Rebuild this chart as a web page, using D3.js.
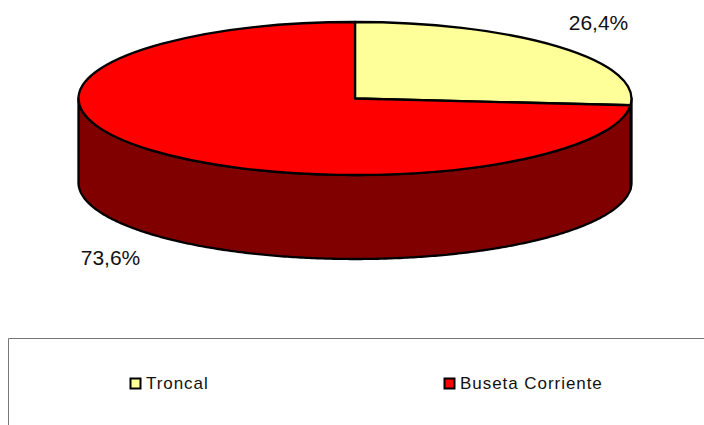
<!DOCTYPE html>
<html>
<head>
<meta charset="utf-8">
<script src="https://cdn.jsdelivr.net/npm/d3@7"></script>
<style>
  html, body { margin: 0; padding: 0; background: #fff; }
  svg { display: block; }
  text { font-family: "Liberation Sans", Arial, sans-serif; fill: #111; }
</style>
</head>
<body>
<div id="chart"></div>
<script>
const categories = ['Troncal', 'Buseta Corriente'];
const shares = [26.4, 73.6];
const shareLabels = ['26,4%', '73,6%'];
const topColors = ['#ffff99', '#ff0000'];
const sideColors = ['#808040', '#800000'];

const width = 704, height = 425;
const cx = 355, cy = 98.5, rx = 276.5, ry = 76.5, depth = 84;

const svg = d3.select('#chart').append('svg')
  .attr('width', width)
  .attr('height', height);

// Angles from the library, clockwise from 12 o'clock
const slices = d3.pie().sort(null)(shares);

const px = a => cx + rx * Math.sin(a);
const py = a => cy - ry * Math.cos(a);

// Side wall: only the front half of the ellipse is visible
const wall = d3.area()
  .x(a => px(a))
  .y0(a => py(a))
  .y1(a => py(a) + depth);

slices.forEach((s, i) => {
  const from = Math.max(s.startAngle, Math.PI / 2);
  const to = Math.min(s.endAngle, Math.PI * 1.5);
  if (to <= from) return;
  svg.append('path')
    .attr('d', wall(d3.range(from, to, 0.01).concat(to)))
    .attr('fill', sideColors[i])
    .attr('stroke', '#000')
    .attr('stroke-width', 2.3)
    .attr('stroke-linejoin', 'round');
});

// Top face: unit-radius arcs stretched into the ellipse
const arc = d3.arc().innerRadius(0).outerRadius(1);
svg.append('g')
  .attr('transform', `translate(${cx},${cy}) scale(${rx},${ry})`)
  .selectAll('path')
  .data(slices)
  .join('path')
  .attr('d', arc)
  .attr('fill', (d, i) => topColors[i])
  .attr('stroke', '#000')
  .attr('stroke-width', 2.3)
  .attr('stroke-linejoin', 'round')
  .attr('vector-effect', 'non-scaling-stroke');

// Data labels
svg.selectAll('.share')
  .data(shareLabels)
  .join('text')
  .attr('class', 'share')
  .attr('x', (d, i) => [598.5, 110.5][i])
  .attr('y', (d, i) => [30, 265][i])
  .attr('text-anchor', 'middle')
  .attr('font-size', 21)
  .text(d => d);

// Legend frame: clipped by the window on the right and bottom
svg.append('path')
  .attr('d', `M8.5,${height} V338.5 H${width}`)
  .attr('fill', 'none')
  .attr('stroke', '#777')
  .attr('stroke-width', 1);

const legendX = d3.scalePoint().domain(categories).range([130, 444]);
const legend = svg.selectAll('.legend-item')
  .data(categories)
  .join('g')
  .attr('class', 'legend-item')
  .attr('transform', d => `translate(${legendX(d)},378)`);

legend.append('rect')
  .attr('x', 0.5)
  .attr('y', 0.5)
  .attr('width', 10)
  .attr('height', 10)
  .attr('fill', (d, i) => topColors[i])
  .attr('stroke', '#000')
  .attr('stroke-width', 2);

legend.append('text')
  .attr('x', 16)
  .attr('y', 11)
  .attr('font-size', 17)
  .attr('letter-spacing', 0.95)
  .text(d => d);
</script>
</body>
</html>
